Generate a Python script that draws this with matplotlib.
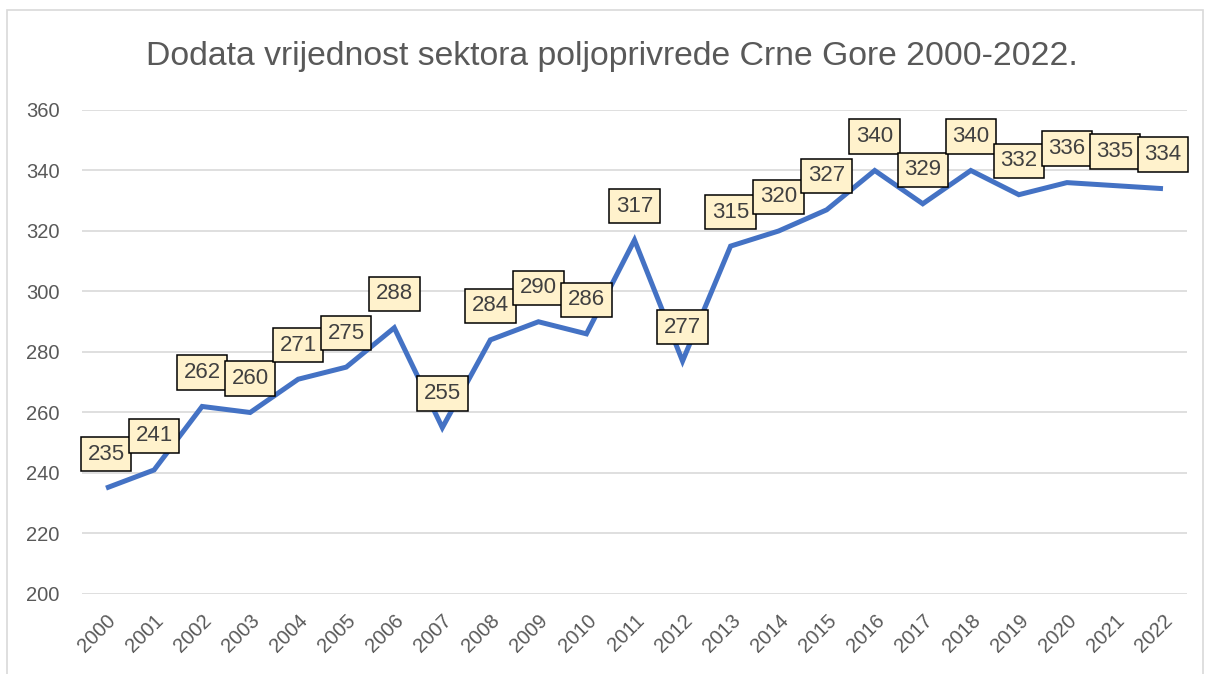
import matplotlib
matplotlib.use("Agg")
import matplotlib.pyplot as plt
from matplotlib.patches import Rectangle

years = [str(y) for y in range(2000, 2023)]
values = [235, 241, 262, 260, 271, 275, 288, 255, 284, 290, 286, 317, 277,
          315, 320, 327, 340, 329, 340, 332, 336, 335, 334]
y_ticks = [200, 220, 240, 260, 280, 300, 320, 340, 360]
title = "Dodata vrijednost sektora poljoprivrede Crne Gore 2000-2022."

plt.rcParams['font.family'] = ['Liberation Sans', 'DejaVu Sans']

W, H = 1206, 674
fig = plt.figure(figsize=(W / 100, H / 100), dpi=100)

# chart border
fig.patches.append(Rectangle((7 / W, -0.05), (1203 - 7) / W, 1.05 - 10 / H,
                             transform=fig.transFigure, fill=False,
                             edgecolor="#D9D9D9", linewidth=1.2))

ax = fig.add_axes([82 / W, 1 - 594 / H, (1187 - 82) / W, (594 - 110) / H])
x = list(range(len(years)))
ax.plot(x, values, color="#4472C4", linewidth=3.6, solid_joinstyle="miter",
        solid_capstyle="butt", zorder=3)
ax.set_xlim(-0.5, len(years) - 0.5)
ax.set_ylim(200, 360)
ax.set_yticks(y_ticks)
ax.set_xticks(x)
ax.set_xticklabels(years, rotation=45, ha="right", rotation_mode="anchor")
ax.tick_params(axis="both", length=0, labelsize=14.5, colors="#595959")
ax.tick_params(axis="y", pad=16)
ax.tick_params(axis="x", pad=12)
ax.grid(axis="y", color="#D9D9D9", linewidth=1.2)
ax.set_axisbelow(True)
for s in ax.spines.values():
    s.set_visible(False)

for i, v in enumerate(values):
    ax.annotate(str(v), (i, v), xytext=(0, 24.5), textcoords="offset points",
                ha="center", va="center", fontsize=16, color="#404040",
                bbox=dict(boxstyle="square,pad=0.3", facecolor="#FFF2CC",
                          edgecolor="black", linewidth=1.1),
                zorder=5 + i)

fig.text(612 / W, 1 - 57 / H, title, ha="center", va="center",
         fontsize=24.3, color="#595959")

fig.savefig("out.png", dpi=100)
